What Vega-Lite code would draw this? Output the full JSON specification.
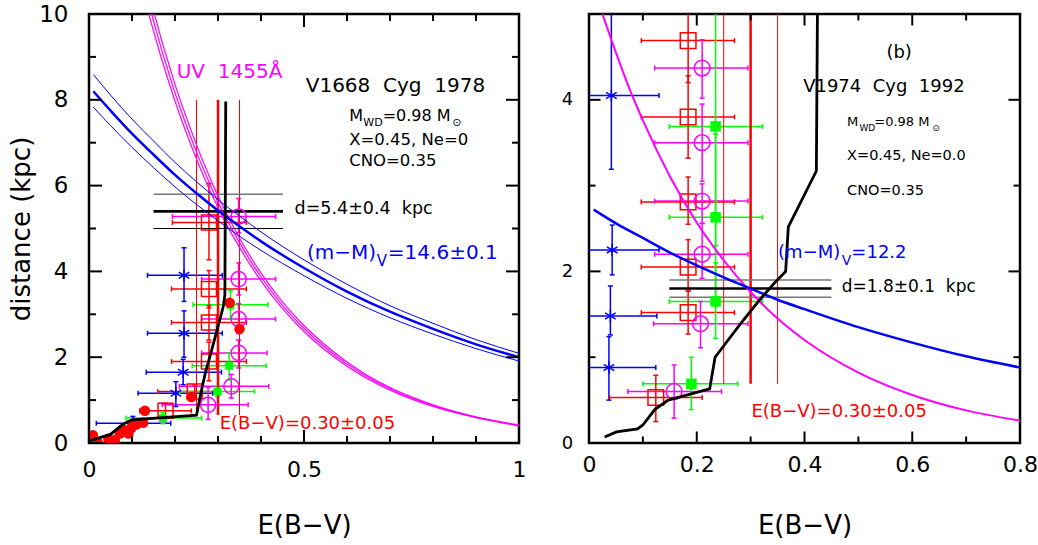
{
"$schema": "https://vega.github.io/schema/vega-lite/v6.json",
"padding": {"left": 7, "top": 1, "right": 0, "bottom": 0},
"bounds": "flush",
"spacing": 70,
"background": "white",
"config": {
  "font": "DejaVu Sans",
  "view": {"stroke": "#000", "strokeWidth": 2.5},
  "axis": {"domain": false, "grid": false, "ticks": false, "labelColor": "#000", "titleColor": "#000", "titleFontWeight": "normal", "labelFlush": false, "labelOverlap": false, "labelFont": "DejaVu Sans", "titleFont": "DejaVu Sans"}
},
"datasets": {
  "Ltx": [
    {"v":0,"a":0,"b":0.303},{"v":0.5,"a":0,"b":0.303},{"v":1,"a":0,"b":0.303},
    {"v":0,"a":10,"b":9.697},{"v":0.5,"a":10,"b":9.697},{"v":1,"a":10,"b":9.697},
    {"v":0.1,"a":0,"b":0.163},{"v":0.2,"a":0,"b":0.163},{"v":0.3,"a":0,"b":0.163},{"v":0.4,"a":0,"b":0.163},{"v":0.6,"a":0,"b":0.163},{"v":0.7,"a":0,"b":0.163},{"v":0.8,"a":0,"b":0.163},{"v":0.9,"a":0,"b":0.163},
    {"v":0.1,"a":10,"b":9.837},{"v":0.2,"a":10,"b":9.837},{"v":0.3,"a":10,"b":9.837},{"v":0.4,"a":10,"b":9.837},{"v":0.6,"a":10,"b":9.837},{"v":0.7,"a":10,"b":9.837},{"v":0.8,"a":10,"b":9.837},{"v":0.9,"a":10,"b":9.837}
  ],
  "Lty": [
    {"v":0,"a":0,"b":0.0302},{"v":2,"a":0,"b":0.0302},{"v":4,"a":0,"b":0.0302},{"v":6,"a":0,"b":0.0302},{"v":8,"a":0,"b":0.0302},{"v":10,"a":0,"b":0.0302},
    {"v":0,"a":1,"b":0.9698},{"v":2,"a":1,"b":0.9698},{"v":4,"a":1,"b":0.9698},{"v":6,"a":1,"b":0.9698},{"v":8,"a":1,"b":0.9698},{"v":10,"a":1,"b":0.9698},
    {"v":1,"a":0,"b":0.0163},{"v":3,"a":0,"b":0.0163},{"v":5,"a":0,"b":0.0163},{"v":7,"a":0,"b":0.0163},{"v":9,"a":0,"b":0.0163},
    {"v":1,"a":1,"b":0.9837},{"v":3,"a":1,"b":0.9837},{"v":5,"a":1,"b":0.9837},{"v":7,"a":1,"b":0.9837},{"v":9,"a":1,"b":0.9837}
  ],
  "Rtx": [
    {"v":0,"a":0,"b":0.134},{"v":0.2,"a":0,"b":0.134},{"v":0.4,"a":0,"b":0.134},{"v":0.6,"a":0,"b":0.134},{"v":0.8,"a":0,"b":0.134},
    {"v":0,"a":5,"b":4.866},{"v":0.2,"a":5,"b":4.866},{"v":0.4,"a":5,"b":4.866},{"v":0.6,"a":5,"b":4.866},{"v":0.8,"a":5,"b":4.866},
    {"v":0.1,"a":0,"b":0.076},{"v":0.3,"a":0,"b":0.076},{"v":0.5,"a":0,"b":0.076},{"v":0.7,"a":0,"b":0.076},
    {"v":0.1,"a":5,"b":4.924},{"v":0.3,"a":5,"b":4.924},{"v":0.5,"a":5,"b":4.924},{"v":0.7,"a":5,"b":4.924}
  ],
  "Rty": [
    {"v":0,"a":0,"b":0.0214},{"v":2,"a":0,"b":0.0214},{"v":4,"a":0,"b":0.0214},
    {"v":0,"a":0.8,"b":0.7786},{"v":2,"a":0.8,"b":0.7786},{"v":4,"a":0.8,"b":0.7786},
    {"v":1,"a":0,"b":0.0121},{"v":3,"a":0,"b":0.0121},{"v":5,"a":0,"b":0.0121},
    {"v":1,"a":0.8,"b":0.7879},{"v":3,"a":0.8,"b":0.7879},{"v":5,"a":0.8,"b":0.7879}
  ],
  "Lp": [
    {"s":"sq","x":0.279,"y":5.14,"xlo":0.194,"xhi":0.366,"ylo":4.27,"yhi":6.05},
    {"s":"sq","x":0.279,"y":3.59,"xlo":0.192,"xhi":0.366,"ylo":3.15,"yhi":4.02},
    {"s":"sq","x":0.279,"y":2.81,"xlo":0.192,"xhi":0.366,"ylo":2.4,"yhi":3.2},
    {"s":"sq","x":0.279,"y":1.9,"xlo":0.192,"xhi":0.366,"ylo":1.45,"yhi":2.35},
    {"s":"sq","x":0.246,"y":1.2,"xlo":0.16,"xhi":0.305,"ylo":1.05,"yhi":1.35},
    {"s":"sq","x":0.178,"y":0.75,"xlo":0.118,"xhi":0.238,"ylo":0.57,"yhi":0.93},
    {"s":"ci","x":0.348,"y":5.28,"xlo":0.194,"xhi":0.434,"ylo":4.9,"yhi":5.7},
    {"s":"ci","x":0.348,"y":3.82,"xlo":0.262,"xhi":0.434,"ylo":3.45,"yhi":4.2},
    {"s":"ci","x":0.348,"y":2.89,"xlo":0.262,"xhi":0.434,"ylo":2.55,"yhi":3.25},
    {"s":"ci","x":0.348,"y":2.1,"xlo":0.262,"xhi":0.414,"ylo":1.75,"yhi":2.4},
    {"s":"ci","x":0.331,"y":1.32,"xlo":0.21,"xhi":0.418,"ylo":1.05,"yhi":1.6},
    {"s":"ci","x":0.277,"y":0.89,"xlo":0.17,"xhi":0.37,"ylo":0.55,"yhi":1.3},
    {"s":"as","x":0.221,"y":3.91,"xlo":0.136,"xhi":0.31,"ylo":3.3,"yhi":4.55},
    {"s":"as","x":0.221,"y":2.56,"xlo":0.136,"xhi":0.31,"ylo":2.0,"yhi":3.08},
    {"s":"as","x":0.219,"y":1.65,"xlo":0.133,"xhi":0.308,"ylo":1.36,"yhi":1.95},
    {"s":"as","x":0.202,"y":1.16,"xlo":0.114,"xhi":0.288,"ylo":0.85,"yhi":1.43},
    {"s":"as","x":0.102,"y":0.46,"xlo":0.017,"xhi":0.19,"ylo":0.27,"yhi":0.62},
    {"s":"gs","x":0.329,"y":3.22,"xlo":0.242,"xhi":0.416,"ylo":2.9,"yhi":3.55},
    {"s":"gs","x":0.326,"y":1.8,"xlo":0.24,"xhi":0.412,"ylo":1.47,"yhi":2.1},
    {"s":"gs","x":0.299,"y":1.2,"xlo":0.211,"xhi":0.385,"ylo":1.08,"yhi":1.32},
    {"s":"gs","x":0.172,"y":0.58,"xlo":0.086,"xhi":0.262,"ylo":0.45,"yhi":0.72}
  ],
  "Ld": [
    {"x":0.009,"y":0.18},{"x":0.02,"y":0.02},{"x":0.045,"y":0.1},{"x":0.06,"y":0.07},{"x":0.072,"y":0.22},{"x":0.083,"y":0.3},{"x":0.092,"y":0.22},{"x":0.1,"y":0.38},{"x":0.11,"y":0.43},{"x":0.126,"y":0.47},{"x":0.13,"y":0.75},{"x":0.238,"y":1.07},{"x":0.327,"y":3.27},{"x":0.35,"y":2.66}
  ],
  "Lc": [
    {"c":"b0","x":0.01,"y":8.2},{"c":"b0","x":0.05,"y":7.75},{"c":"b0","x":0.1,"y":7.21},{"c":"b0","x":0.15,"y":6.72},{"c":"b0","x":0.2,"y":6.25},{"c":"b0","x":0.25,"y":5.82},{"c":"b0","x":0.3,"y":5.42},{"c":"b0","x":0.35,"y":5.05},{"c":"b0","x":0.4,"y":4.7},{"c":"b0","x":0.5,"y":4.08},{"c":"b0","x":0.6,"y":3.53},{"c":"b0","x":0.7,"y":3.06},{"c":"b0","x":0.8,"y":2.66},{"c":"b0","x":0.9,"y":2.3},{"c":"b0","x":1.0,"y":2.0},
    {"c":"b1","x":0.01,"y":8.59},{"c":"b1","x":0.05,"y":8.11},{"c":"b1","x":0.1,"y":7.55},{"c":"b1","x":0.15,"y":7.04},{"c":"b1","x":0.2,"y":6.54},{"c":"b1","x":0.25,"y":6.09},{"c":"b1","x":0.3,"y":5.67},{"c":"b1","x":0.35,"y":5.29},{"c":"b1","x":0.4,"y":4.92},{"c":"b1","x":0.5,"y":4.27},{"c":"b1","x":0.6,"y":3.7},{"c":"b1","x":0.7,"y":3.2},{"c":"b1","x":0.8,"y":2.79},{"c":"b1","x":0.9,"y":2.41},{"c":"b1","x":1.0,"y":2.09},
    {"c":"b2","x":0.01,"y":7.83},{"c":"b2","x":0.05,"y":7.4},{"c":"b2","x":0.1,"y":6.89},{"c":"b2","x":0.15,"y":6.42},{"c":"b2","x":0.2,"y":5.97},{"c":"b2","x":0.25,"y":5.56},{"c":"b2","x":0.3,"y":5.18},{"c":"b2","x":0.35,"y":4.82},{"c":"b2","x":0.4,"y":4.49},{"c":"b2","x":0.5,"y":3.9},{"c":"b2","x":0.6,"y":3.37},{"c":"b2","x":0.7,"y":2.92},{"c":"b2","x":0.8,"y":2.54},{"c":"b2","x":0.9,"y":2.2},{"c":"b2","x":1.0,"y":1.91},
    {"c":"m0","x":0.1456,"y":10},{"c":"m0","x":0.16,"y":9.48},{"c":"m0","x":0.17,"y":9.13},{"c":"m0","x":0.18,"y":8.8},{"c":"m0","x":0.2,"y":8.16},{"c":"m0","x":0.22,"y":7.58},{"c":"m0","x":0.25,"y":6.78},{"c":"m0","x":0.28,"y":6.06},{"c":"m0","x":0.3,"y":5.62},{"c":"m0","x":0.32,"y":5.22},{"c":"m0","x":0.35,"y":4.67},{"c":"m0","x":0.4,"y":3.87},{"c":"m0","x":0.45,"y":3.21},{"c":"m0","x":0.5,"y":2.67},{"c":"m0","x":0.6,"y":1.84},{"c":"m0","x":0.7,"y":1.26},{"c":"m0","x":0.8,"y":0.87},{"c":"m0","x":0.9,"y":0.6},{"c":"m0","x":1.0,"y":0.41},
    {"c":"m1","x":0.1521,"y":10},{"c":"m1","x":0.16,"y":9.71},{"c":"m1","x":0.17,"y":9.35},{"c":"m1","x":0.18,"y":9.02},{"c":"m1","x":0.2,"y":8.36},{"c":"m1","x":0.22,"y":7.77},{"c":"m1","x":0.25,"y":6.95},{"c":"m1","x":0.28,"y":6.21},{"c":"m1","x":0.3,"y":5.76},{"c":"m1","x":0.32,"y":5.35},{"c":"m1","x":0.35,"y":4.78},{"c":"m1","x":0.4,"y":3.96},{"c":"m1","x":0.45,"y":3.29},{"c":"m1","x":0.5,"y":2.74},{"c":"m1","x":0.6,"y":1.89},{"c":"m1","x":0.7,"y":1.29},{"c":"m1","x":0.8,"y":0.89},{"c":"m1","x":0.9,"y":0.61},{"c":"m1","x":1.0,"y":0.42},
    {"c":"m2","x":0.1391,"y":10},{"c":"m2","x":0.15,"y":9.6},{"c":"m2","x":0.16,"y":9.25},{"c":"m2","x":0.17,"y":8.91},{"c":"m2","x":0.18,"y":8.59},{"c":"m2","x":0.2,"y":7.97},{"c":"m2","x":0.22,"y":7.4},{"c":"m2","x":0.25,"y":6.62},{"c":"m2","x":0.28,"y":5.91},{"c":"m2","x":0.3,"y":5.49},{"c":"m2","x":0.32,"y":5.09},{"c":"m2","x":0.35,"y":4.56},{"c":"m2","x":0.4,"y":3.78},{"c":"m2","x":0.45,"y":3.13},{"c":"m2","x":0.5,"y":2.6},{"c":"m2","x":0.6,"y":1.79},{"c":"m2","x":0.7,"y":1.23},{"c":"m2","x":0.8,"y":0.85},{"c":"m2","x":0.9,"y":0.59},{"c":"m2","x":1.0,"y":0.4},
    {"c":"t","x":0.0,"y":0.05},{"c":"t","x":0.05,"y":0.2},{"c":"t","x":0.078,"y":0.43},{"c":"t","x":0.1,"y":0.54},{"c":"t","x":0.25,"y":0.65},{"c":"t","x":0.262,"y":1.25},{"c":"t","x":0.271,"y":1.65},{"c":"t","x":0.284,"y":2.12},{"c":"t","x":0.298,"y":2.64},{"c":"t","x":0.312,"y":3.17},{"c":"t","x":0.316,"y":3.45},{"c":"t","x":0.318,"y":7.96}
  ],
  "Lv": [
    {"x":0.25,"y":0.65,"y2":8.0,"k":"s"},{"x":0.3,"y":0.65,"y2":8.0,"k":"c"},{"x":0.35,"y":0.65,"y2":8.0,"k":"s"}
  ],
  "Lh": [
    {"y":5.4,"x":0.15,"x2":0.451,"k":"c"},{"y":5.8,"x":0.15,"x2":0.451,"k":"g"},{"y":5.0,"x":0.15,"x2":0.451,"k":"t"}
  ],
  "Lt": [
    {"r":"uv","x":0.204,"y":8.51,"t":"UV\u00a0\u00a01455Å"},
    {"r":"ttl","x":0.504,"y":8.19,"t":"V1668\u00a0\u00a0Cyg\u00a0\u00a01978"},
    {"r":"pm","x":0.605,"y":7.517,"t":"M"},
    {"r":"pm","x":0.683,"y":7.517,"t":"=0.98 M"},
    {"r":"p","x":0.605,"y":6.94,"t":"X=0.45, Ne=0"},
    {"r":"p","x":0.605,"y":6.46,"t":"CNO=0.35"},
    {"r":"sub","x":0.638,"y":7.38,"t":"WD"},
    {"r":"sub","x":0.845,"y":7.38,"t":"⊙"},
    {"r":"d","x":0.478,"y":5.33,"t":"d=5.4±0.4\u00a0\u00a0kpc"},
    {"r":"mm","x":0.507,"y":4.285,"t":"(m−M)"},
    {"r":"mm","x":0.695,"y":4.285,"t":"=14.6±0.1"},
    {"r":"mms","x":0.669,"y":4.124,"t":"V"},
    {"r":"e","x":0.304,"y":0.327,"t":"E(B−V)=0.30±0.05"}
  ],
  "Rp": [
    {"s":"sq","x":0.184,"y":4.69,"xlo":0.097,"xhi":0.27,"ylo":4.2,"yhi":5.2},
    {"s":"sq","x":0.184,"y":3.8,"xlo":0.097,"xhi":0.27,"ylo":3.32,"yhi":4.28},
    {"s":"sq","x":0.184,"y":2.81,"xlo":0.097,"xhi":0.27,"ylo":2.55,"yhi":3.1},
    {"s":"sq","x":0.184,"y":2.05,"xlo":0.097,"xhi":0.27,"ylo":1.77,"yhi":2.37},
    {"s":"sq","x":0.184,"y":1.52,"xlo":0.097,"xhi":0.27,"ylo":1.27,"yhi":1.77},
    {"s":"sq","x":0.124,"y":0.53,"xlo":0.038,"xhi":0.21,"ylo":0.25,"yhi":0.79},
    {"s":"ci","x":0.21,"y":4.37,"xlo":0.122,"xhi":0.295,"ylo":4.02,"yhi":4.7},
    {"s":"ci","x":0.21,"y":3.5,"xlo":0.122,"xhi":0.295,"ylo":3.05,"yhi":3.95},
    {"s":"ci","x":0.21,"y":2.82,"xlo":0.122,"xhi":0.295,"ylo":2.56,"yhi":3.02},
    {"s":"ci","x":0.21,"y":2.2,"xlo":0.122,"xhi":0.295,"ylo":1.92,"yhi":2.56},
    {"s":"ci","x":0.207,"y":1.39,"xlo":0.12,"xhi":0.295,"ylo":1.11,"yhi":1.65},
    {"s":"ci","x":0.158,"y":0.6,"xlo":0.072,"xhi":0.246,"ylo":0.29,"yhi":0.91},
    {"s":"as","x":0.0415,"y":4.05,"xlo":-0.046,"xhi":0.13,"ylo":3.19,"yhi":5.2},
    {"s":"as","x":0.043,"y":2.25,"xlo":-0.044,"xhi":0.13,"ylo":1.96,"yhi":2.54},
    {"s":"as","x":0.0397,"y":1.48,"xlo":-0.047,"xhi":0.126,"ylo":1.26,"yhi":1.83},
    {"s":"as","x":0.037,"y":0.88,"xlo":-0.05,"xhi":0.124,"ylo":0.5,"yhi":1.24},
    {"s":"gs","x":0.235,"y":3.69,"xlo":0.149,"xhi":0.322,"ylo":2.3,"yhi":5.1},
    {"s":"gs","x":0.235,"y":2.63,"xlo":0.149,"xhi":0.322,"ylo":1.6,"yhi":3.6},
    {"s":"gs","x":0.235,"y":1.65,"xlo":0.149,"xhi":0.322,"ylo":1.22,"yhi":2.1},
    {"s":"gs","x":0.19,"y":0.69,"xlo":0.1,"xhi":0.276,"ylo":0.39,"yhi":1.0}
  ],
  "Rc": [
    {"c":"m","x":0.0249,"y":5.0},{"c":"m","x":0.05,"y":4.55},{"c":"m","x":0.075,"y":4.13},{"c":"m","x":0.1,"y":3.76},{"c":"m","x":0.15,"y":3.11},{"c":"m","x":0.2,"y":2.57},{"c":"m","x":0.25,"y":2.13},{"c":"m","x":0.3,"y":1.76},{"c":"m","x":0.35,"y":1.45},{"c":"m","x":0.4,"y":1.2},{"c":"m","x":0.5,"y":0.82},{"c":"m","x":0.6,"y":0.56},{"c":"m","x":0.7,"y":0.38},{"c":"m","x":0.8,"y":0.26},
    {"c":"b","x":0.0087,"y":2.72},{"c":"b","x":0.05,"y":2.56},{"c":"b","x":0.1,"y":2.39},{"c":"b","x":0.15,"y":2.22},{"c":"b","x":0.2,"y":2.07},{"c":"b","x":0.25,"y":1.93},{"c":"b","x":0.3,"y":1.8},{"c":"b","x":0.35,"y":1.67},{"c":"b","x":0.4,"y":1.56},{"c":"b","x":0.5,"y":1.35},{"c":"b","x":0.6,"y":1.17},{"c":"b","x":0.7,"y":1.01},{"c":"b","x":0.8,"y":0.88},
    {"c":"t","x":0.029,"y":0.07},{"c":"t","x":0.051,"y":0.13},{"c":"t","x":0.09,"y":0.165},{"c":"t","x":0.1,"y":0.21},{"c":"t","x":0.122,"y":0.39},{"c":"t","x":0.147,"y":0.5},{"c":"t","x":0.224,"y":0.63},{"c":"t","x":0.234,"y":1.0},{"c":"t","x":0.28,"y":1.38},{"c":"t","x":0.317,"y":1.67},{"c":"t","x":0.345,"y":1.87},{"c":"t","x":0.365,"y":2.0},{"c":"t","x":0.37,"y":2.52},{"c":"t","x":0.422,"y":3.17},{"c":"t","x":0.424,"y":5.0}
  ],
  "Rv": [
    {"x":0.25,"y":0.69,"y2":5.0,"k":"s"},{"x":0.3,"y":0.69,"y2":5.0,"k":"c"},{"x":0.35,"y":0.69,"y2":5.0,"k":"s"}
  ],
  "Rh": [
    {"y":1.8,"x":0.149,"x2":0.45,"k":"c"},{"y":1.9,"x":0.149,"x2":0.45,"k":"g"},{"y":1.7,"x":0.149,"x2":0.45,"k":"g"}
  ],
  "Rt": [
    {"r":"ttl","x":0.552,"y":4.485,"t":"(b)"},
    {"r":"ttl","x":0.3975,"y":4.09,"t":"V1974\u00a0\u00a0Cyg\u00a0\u00a01992"},
    {"r":"pm","x":0.479,"y":3.694,"t":"M"},
    {"r":"pm","x":0.5295,"y":3.694,"t":"=0.98 M"},
    {"r":"p","x":0.479,"y":3.297,"t":"X=0.45, Ne=0.0"},
    {"r":"p","x":0.479,"y":2.895,"t":"CNO=0.35"},
    {"r":"sub","x":0.502,"y":3.64,"t":"WD"},
    {"r":"sub","x":0.637,"y":3.64,"t":"⊙"},
    {"r":"mm","x":0.351,"y":2.153,"t":"(m−M)"},
    {"r":"mm","x":0.487,"y":2.153,"t":"=12.2"},
    {"r":"mms","x":0.469,"y":2.08,"t":"V"},
    {"r":"d","x":0.469,"y":1.756,"t":"d=1.8±0.1\u00a0\u00a0kpc"},
    {"r":"e","x":0.3015,"y":0.3,"t":"E(B−V)=0.30±0.05"}
  ]
},
"hconcat": [
  {
    "width": 430, "height": 429,
    "layer": [
      {"data": {"name": "Lp"}, "mark": {"type": "rule", "strokeWidth": 1.5, "clip": true},
       "encoding": {
         "x": {"field": "xlo", "type": "quantitative", "scale": {"domain": [0, 1], "nice": false, "zero": false},
               "axis": {"title": "E(B−V)", "values": [0,0.5,1], "labelPadding": 16.2, "labelFontSize": 22, "titleFontSize": 26, "titleY": 69.9, "titleBaseline": "top",
                        "labelExpr": "datum.value == 0 ? '0' : datum.value == 0.5 ? '0.5' : '1'"}},
         "x2": {"field": "xhi"},
         "y": {"field": "y", "type": "quantitative", "scale": {"domain": [0, 10], "nice": false, "zero": false},
               "axis": {"title": "distance (kpc)", "values": [0,2,4,6,8,10], "labelPadding": 21, "labelFontSize": 23, "titleFontSize": 26, "titleX": -59.5, "titleBaseline": "alphabetic",
                        "labelExpr": "format(datum.value, 'd')"}},
         "color": {"field": "s", "type": "nominal", "scale": {"domain": ["sq","ci","as","gs"], "range": ["#ff0000","#ff00ff","#0000ff","#00ff00"]}, "legend": null}
       }},
      {"data": {"name": "Lp"}, "mark": {"type": "rule", "strokeWidth": 1.5, "clip": true},
       "encoding": {"x": {"field": "x", "type": "quantitative"}, "y": {"field": "ylo", "type": "quantitative"}, "y2": {"field": "yhi"}, "color": {"field": "s", "type": "nominal", "legend": null}}},
      {"data": {"name": "Lp"}, "transform": [{"fold": ["xlo","xhi"], "as": ["k","v"]}], "mark": {"type": "tick", "orient": "vertical", "size": 5, "thickness": 1.5, "opacity": 1, "clip": true},
       "encoding": {"x": {"field": "v", "type": "quantitative"}, "y": {"field": "y", "type": "quantitative"}, "color": {"field": "s", "type": "nominal", "legend": null}}},
      {"data": {"name": "Lp"}, "transform": [{"fold": ["ylo","yhi"], "as": ["k","v"]}], "mark": {"type": "tick", "orient": "horizontal", "size": 5, "thickness": 1.5, "opacity": 1, "clip": true},
       "encoding": {"x": {"field": "x", "type": "quantitative"}, "y": {"field": "v", "type": "quantitative"}, "color": {"field": "s", "type": "nominal", "legend": null}}},
      {"data": {"name": "Lv"}, "transform": [{"filter": "datum.k == 's'"}], "mark": {"type": "rule", "color": "#ff0000", "strokeWidth": 1, "clip": true},
       "encoding": {"x": {"field": "x", "type": "quantitative"}, "y": {"field": "y", "type": "quantitative"}, "y2": {"field": "y2"}}},
      {"data": {"name": "Lv"}, "transform": [{"filter": "datum.k == 'c'"}], "mark": {"type": "rule", "color": "#ff0000", "strokeWidth": 2.5, "clip": true},
       "encoding": {"x": {"field": "x", "type": "quantitative"}, "y": {"field": "y", "type": "quantitative"}, "y2": {"field": "y2"}}},
      {"data": {"name": "Lh"}, "transform": [{"filter": "datum.k == 'g'"}], "mark": {"type": "rule", "color": "#777777", "strokeWidth": 1.5},
       "encoding": {"x": {"field": "x", "type": "quantitative"}, "x2": {"field": "x2"}, "y": {"field": "y", "type": "quantitative"}}},
      {"data": {"name": "Lh"}, "transform": [{"filter": "datum.k == 't'"}], "mark": {"type": "rule", "color": "#000000", "strokeWidth": 1.2},
       "encoding": {"x": {"field": "x", "type": "quantitative"}, "x2": {"field": "x2"}, "y": {"field": "y", "type": "quantitative"}}},
      {"data": {"name": "Lh"}, "transform": [{"filter": "datum.k == 'c'"}], "mark": {"type": "rule", "color": "#000000", "strokeWidth": 2.8},
       "encoding": {"x": {"field": "x", "type": "quantitative"}, "x2": {"field": "x2"}, "y": {"field": "y", "type": "quantitative"}}},
      {"data": {"name": "Lp"}, "transform": [{"filter": "datum.s == 'sq'"}], "mark": {"type": "point", "shape": "square", "filled": false, "color": "#ff0000", "strokeWidth": 1.5, "size": 225, "opacity": 1, "clip": true},
       "encoding": {"x": {"field": "x", "type": "quantitative"}, "y": {"field": "y", "type": "quantitative"}}},
      {"data": {"name": "Lp"}, "transform": [{"filter": "datum.s == 'ci'"}], "mark": {"type": "point", "shape": "circle", "filled": false, "color": "#ff00ff", "strokeWidth": 1.5, "size": 230, "opacity": 1, "clip": true},
       "encoding": {"x": {"field": "x", "type": "quantitative"}, "y": {"field": "y", "type": "quantitative"}}},
      {"data": {"name": "Lp"}, "transform": [{"filter": "datum.s == 'as'"}], "mark": {"type": "point", "shape": "M-0.87,-0.5L0.87,0.5M-0.87,0.5L0.87,-0.5M0,-1L0,1", "filled": false, "color": "#0000ff", "strokeWidth": 1.5, "size": 150, "opacity": 1, "clip": true},
       "encoding": {"x": {"field": "x", "type": "quantitative"}, "y": {"field": "y", "type": "quantitative"}}},
      {"data": {"name": "Lp"}, "transform": [{"filter": "datum.s == 'gs'"}], "mark": {"type": "square", "color": "#00ff00", "size": 64, "opacity": 1, "clip": true},
       "encoding": {"x": {"field": "x", "type": "quantitative"}, "y": {"field": "y", "type": "quantitative"}}},
      {"data": {"name": "Ld"}, "mark": {"type": "circle", "color": "#ff0000", "size": 110, "opacity": 1, "clip": true},
       "encoding": {"x": {"field": "x", "type": "quantitative"}, "y": {"field": "y", "type": "quantitative"}}},
      {"data": {"name": "Lc"}, "transform": [{"filter": "datum.c == 'm0' || datum.c == 'm1' || datum.c == 'm2'"}], "mark": {"type": "line", "color": "#ff00ff", "strokeWidth": 1.2, "interpolate": "monotone", "clip": true},
       "encoding": {"x": {"field": "x", "type": "quantitative"}, "y": {"field": "y", "type": "quantitative"}, "detail": {"field": "c"}}},
      {"data": {"name": "Lc"}, "transform": [{"filter": "datum.c == 'b1' || datum.c == 'b2'"}], "mark": {"type": "line", "color": "#0000ff", "strokeWidth": 1, "interpolate": "monotone", "clip": true},
       "encoding": {"x": {"field": "x", "type": "quantitative"}, "y": {"field": "y", "type": "quantitative"}, "detail": {"field": "c"}}},
      {"data": {"name": "Lc"}, "transform": [{"filter": "datum.c == 'b0'"}], "mark": {"type": "line", "color": "#0000ff", "strokeWidth": 2.5, "interpolate": "monotone", "clip": true},
       "encoding": {"x": {"field": "x", "type": "quantitative"}, "y": {"field": "y", "type": "quantitative"}}},
      {"data": {"name": "Lc"}, "transform": [{"filter": "datum.c == 't'"}], "mark": {"type": "line", "color": "#000000", "strokeWidth": 2.8, "clip": true},
       "encoding": {"x": {"field": "x", "type": "quantitative"}, "y": {"field": "y", "type": "quantitative"}}},
      {"data": {"name": "Ltx"}, "mark": {"type": "rule", "color": "#000000", "strokeWidth": 2},
       "encoding": {"x": {"field": "v", "type": "quantitative"}, "y": {"field": "a", "type": "quantitative"}, "y2": {"field": "b"}}},
      {"data": {"name": "Lty"}, "mark": {"type": "rule", "color": "#000000", "strokeWidth": 2},
       "encoding": {"y": {"field": "v", "type": "quantitative"}, "x": {"field": "a", "type": "quantitative"}, "x2": {"field": "b"}}},
      {"data": {"name": "Lt"}, "transform": [{"filter": "datum.r == 'uv'"}], "mark": {"type": "text", "align": "left", "baseline": "alphabetic", "fontSize": 20, "color": "#ff00ff"},
       "encoding": {"x": {"field": "x", "type": "quantitative"}, "y": {"field": "y", "type": "quantitative"}, "text": {"field": "t"}}},
      {"data": {"name": "Lt"}, "transform": [{"filter": "datum.r == 'ttl'"}], "mark": {"type": "text", "align": "left", "baseline": "alphabetic", "fontSize": 20, "color": "#000000"},
       "encoding": {"x": {"field": "x", "type": "quantitative"}, "y": {"field": "y", "type": "quantitative"}, "text": {"field": "t"}}},
      {"data": {"name": "Lt"}, "transform": [{"filter": "datum.r == 'pm'"}], "mark": {"type": "text", "align": "left", "baseline": "alphabetic", "fontSize": 16, "color": "#000000"},
       "encoding": {"x": {"field": "x", "type": "quantitative"}, "y": {"field": "y", "type": "quantitative"}, "text": {"field": "t"}}},
      {"data": {"name": "Lt"}, "transform": [{"filter": "datum.r == 'p'"}], "mark": {"type": "text", "align": "left", "baseline": "alphabetic", "fontSize": 16.5, "color": "#000000"},
       "encoding": {"x": {"field": "x", "type": "quantitative"}, "y": {"field": "y", "type": "quantitative"}, "text": {"field": "t"}}},
      {"data": {"name": "Lt"}, "transform": [{"filter": "datum.r == 'sub'"}], "mark": {"type": "text", "align": "left", "baseline": "alphabetic", "fontSize": 11, "color": "#000000"},
       "encoding": {"x": {"field": "x", "type": "quantitative"}, "y": {"field": "y", "type": "quantitative"}, "text": {"field": "t"}}},
      {"data": {"name": "Lt"}, "transform": [{"filter": "datum.r == 'd'"}], "mark": {"type": "text", "align": "left", "baseline": "alphabetic", "fontSize": 17.5, "color": "#000000"},
       "encoding": {"x": {"field": "x", "type": "quantitative"}, "y": {"field": "y", "type": "quantitative"}, "text": {"field": "t"}}},
      {"data": {"name": "Lt"}, "transform": [{"filter": "datum.r == 'mm'"}], "mark": {"type": "text", "align": "left", "baseline": "alphabetic", "fontSize": 20, "color": "#0000ff"},
       "encoding": {"x": {"field": "x", "type": "quantitative"}, "y": {"field": "y", "type": "quantitative"}, "text": {"field": "t"}}},
      {"data": {"name": "Lt"}, "transform": [{"filter": "datum.r == 'mms'"}], "mark": {"type": "text", "align": "left", "baseline": "alphabetic", "fontSize": 15, "color": "#0000ff"},
       "encoding": {"x": {"field": "x", "type": "quantitative"}, "y": {"field": "y", "type": "quantitative"}, "text": {"field": "t"}}},
      {"data": {"name": "Lt"}, "transform": [{"filter": "datum.r == 'e'"}], "mark": {"type": "text", "align": "left", "baseline": "alphabetic", "fontSize": 18, "color": "#ff0000"},
       "encoding": {"x": {"field": "x", "type": "quantitative"}, "y": {"field": "y", "type": "quantitative"}, "text": {"field": "t"}}}
    ]
  },
  {
    "width": 431, "height": 429,
    "layer": [
      {"data": {"name": "Rp"}, "mark": {"type": "rule", "strokeWidth": 1.5, "clip": true},
       "encoding": {
         "x": {"field": "xlo", "type": "quantitative", "scale": {"domain": [0, 0.8], "nice": false, "zero": false},
               "axis": {"title": "E(B−V)", "values": [0,0.2,0.4,0.6,0.8], "labelPadding": 11.5, "labelFontSize": 22, "titleFontSize": 26, "titleY": 69.9, "titleBaseline": "top",
                        "labelExpr": "datum.value == 0 ? '0' : format(datum.value, '.1f')"}},
         "x2": {"field": "xhi"},
         "y": {"field": "y", "type": "quantitative", "scale": {"domain": [0, 5], "nice": false, "zero": false},
               "axis": {"title": null, "values": [0,2,4], "labelPadding": 16.3, "labelFontSize": 18,
                        "labelExpr": "format(datum.value, 'd')"}},
         "color": {"field": "s", "type": "nominal", "scale": {"domain": ["sq","ci","as","gs"], "range": ["#ff0000","#ff00ff","#0000ff","#00ff00"]}, "legend": null}
       }},
      {"data": {"name": "Rp"}, "mark": {"type": "rule", "strokeWidth": 1.5, "clip": true},
       "encoding": {"x": {"field": "x", "type": "quantitative"}, "y": {"field": "ylo", "type": "quantitative"}, "y2": {"field": "yhi"}, "color": {"field": "s", "type": "nominal", "legend": null}}},
      {"data": {"name": "Rp"}, "transform": [{"fold": ["xlo","xhi"], "as": ["k","v"]}], "mark": {"type": "tick", "orient": "vertical", "size": 5, "thickness": 1.5, "opacity": 1, "clip": true},
       "encoding": {"x": {"field": "v", "type": "quantitative"}, "y": {"field": "y", "type": "quantitative"}, "color": {"field": "s", "type": "nominal", "legend": null}}},
      {"data": {"name": "Rp"}, "transform": [{"fold": ["ylo","yhi"], "as": ["k","v"]}], "mark": {"type": "tick", "orient": "horizontal", "size": 5, "thickness": 1.5, "opacity": 1, "clip": true},
       "encoding": {"x": {"field": "x", "type": "quantitative"}, "y": {"field": "v", "type": "quantitative"}, "color": {"field": "s", "type": "nominal", "legend": null}}},
      {"data": {"name": "Rv"}, "transform": [{"filter": "datum.k == 's'"}], "mark": {"type": "rule", "color": "#ff0000", "strokeWidth": 1, "clip": true},
       "encoding": {"x": {"field": "x", "type": "quantitative"}, "y": {"field": "y", "type": "quantitative"}, "y2": {"field": "y2"}}},
      {"data": {"name": "Rv"}, "transform": [{"filter": "datum.k == 'c'"}], "mark": {"type": "rule", "color": "#ff0000", "strokeWidth": 2.5, "clip": true},
       "encoding": {"x": {"field": "x", "type": "quantitative"}, "y": {"field": "y", "type": "quantitative"}, "y2": {"field": "y2"}}},
      {"data": {"name": "Rh"}, "transform": [{"filter": "datum.k == 'g'"}], "mark": {"type": "rule", "color": "#777777", "strokeWidth": 1.5},
       "encoding": {"x": {"field": "x", "type": "quantitative"}, "x2": {"field": "x2"}, "y": {"field": "y", "type": "quantitative"}}},
      {"data": {"name": "Rh"}, "transform": [{"filter": "datum.k == 'c'"}], "mark": {"type": "rule", "color": "#000000", "strokeWidth": 2.5},
       "encoding": {"x": {"field": "x", "type": "quantitative"}, "x2": {"field": "x2"}, "y": {"field": "y", "type": "quantitative"}}},
      {"data": {"name": "Rp"}, "transform": [{"filter": "datum.s == 'sq'"}], "mark": {"type": "point", "shape": "square", "filled": false, "color": "#ff0000", "strokeWidth": 1.5, "size": 245, "opacity": 1, "clip": true},
       "encoding": {"x": {"field": "x", "type": "quantitative"}, "y": {"field": "y", "type": "quantitative"}}},
      {"data": {"name": "Rp"}, "transform": [{"filter": "datum.s == 'ci'"}], "mark": {"type": "point", "shape": "circle", "filled": false, "color": "#ff00ff", "strokeWidth": 1.5, "size": 250, "opacity": 1, "clip": true},
       "encoding": {"x": {"field": "x", "type": "quantitative"}, "y": {"field": "y", "type": "quantitative"}}},
      {"data": {"name": "Rp"}, "transform": [{"filter": "datum.s == 'as'"}], "mark": {"type": "point", "shape": "M-0.87,-0.5L0.87,0.5M-0.87,0.5L0.87,-0.5M0,-1L0,1", "filled": false, "color": "#0000ff", "strokeWidth": 1.5, "size": 150, "opacity": 1, "clip": true},
       "encoding": {"x": {"field": "x", "type": "quantitative"}, "y": {"field": "y", "type": "quantitative"}}},
      {"data": {"name": "Rp"}, "transform": [{"filter": "datum.s == 'gs'"}], "mark": {"type": "square", "color": "#00ff00", "size": 110, "opacity": 1, "clip": true},
       "encoding": {"x": {"field": "x", "type": "quantitative"}, "y": {"field": "y", "type": "quantitative"}}},
      {"data": {"name": "Rc"}, "transform": [{"filter": "datum.c == 'm'"}], "mark": {"type": "line", "color": "#ff00ff", "strokeWidth": 2, "interpolate": "monotone", "clip": true},
       "encoding": {"x": {"field": "x", "type": "quantitative"}, "y": {"field": "y", "type": "quantitative"}}},
      {"data": {"name": "Rc"}, "transform": [{"filter": "datum.c == 'b'"}], "mark": {"type": "line", "color": "#0000ff", "strokeWidth": 2.5, "interpolate": "monotone", "clip": true},
       "encoding": {"x": {"field": "x", "type": "quantitative"}, "y": {"field": "y", "type": "quantitative"}}},
      {"data": {"name": "Rc"}, "transform": [{"filter": "datum.c == 't'"}], "mark": {"type": "line", "color": "#000000", "strokeWidth": 2.8, "clip": true},
       "encoding": {"x": {"field": "x", "type": "quantitative"}, "y": {"field": "y", "type": "quantitative"}}},
      {"data": {"name": "Rtx"}, "mark": {"type": "rule", "color": "#000000", "strokeWidth": 2},
       "encoding": {"x": {"field": "v", "type": "quantitative"}, "y": {"field": "a", "type": "quantitative"}, "y2": {"field": "b"}}},
      {"data": {"name": "Rty"}, "mark": {"type": "rule", "color": "#000000", "strokeWidth": 2},
       "encoding": {"y": {"field": "v", "type": "quantitative"}, "x": {"field": "a", "type": "quantitative"}, "x2": {"field": "b"}}},
      {"data": {"name": "Rt"}, "transform": [{"filter": "datum.r == 'ttl'"}], "mark": {"type": "text", "align": "left", "baseline": "alphabetic", "fontSize": 18, "color": "#000000"},
       "encoding": {"x": {"field": "x", "type": "quantitative"}, "y": {"field": "y", "type": "quantitative"}, "text": {"field": "t"}}},
      {"data": {"name": "Rt"}, "transform": [{"filter": "datum.r == 'pm'"}], "mark": {"type": "text", "align": "left", "baseline": "alphabetic", "fontSize": 13, "color": "#000000"},
       "encoding": {"x": {"field": "x", "type": "quantitative"}, "y": {"field": "y", "type": "quantitative"}, "text": {"field": "t"}}},
      {"data": {"name": "Rt"}, "transform": [{"filter": "datum.r == 'p'"}], "mark": {"type": "text", "align": "left", "baseline": "alphabetic", "fontSize": 14.5, "color": "#000000"},
       "encoding": {"x": {"field": "x", "type": "quantitative"}, "y": {"field": "y", "type": "quantitative"}, "text": {"field": "t"}}},
      {"data": {"name": "Rt"}, "transform": [{"filter": "datum.r == 'sub'"}], "mark": {"type": "text", "align": "left", "baseline": "alphabetic", "fontSize": 9, "color": "#000000"},
       "encoding": {"x": {"field": "x", "type": "quantitative"}, "y": {"field": "y", "type": "quantitative"}, "text": {"field": "t"}}},
      {"data": {"name": "Rt"}, "transform": [{"filter": "datum.r == 'mm'"}], "mark": {"type": "text", "align": "left", "baseline": "alphabetic", "fontSize": 18, "color": "#0000ff"},
       "encoding": {"x": {"field": "x", "type": "quantitative"}, "y": {"field": "y", "type": "quantitative"}, "text": {"field": "t"}}},
      {"data": {"name": "Rt"}, "transform": [{"filter": "datum.r == 'mms'"}], "mark": {"type": "text", "align": "left", "baseline": "alphabetic", "fontSize": 14, "color": "#0000ff"},
       "encoding": {"x": {"field": "x", "type": "quantitative"}, "y": {"field": "y", "type": "quantitative"}, "text": {"field": "t"}}},
      {"data": {"name": "Rt"}, "transform": [{"filter": "datum.r == 'd'"}], "mark": {"type": "text", "align": "left", "baseline": "alphabetic", "fontSize": 17, "color": "#000000"},
       "encoding": {"x": {"field": "x", "type": "quantitative"}, "y": {"field": "y", "type": "quantitative"}, "text": {"field": "t"}}},
      {"data": {"name": "Rt"}, "transform": [{"filter": "datum.r == 'e'"}], "mark": {"type": "text", "align": "left", "baseline": "alphabetic", "fontSize": 18, "color": "#ff0000"},
       "encoding": {"x": {"field": "x", "type": "quantitative"}, "y": {"field": "y", "type": "quantitative"}, "text": {"field": "t"}}}
    ]
  }
]
}
